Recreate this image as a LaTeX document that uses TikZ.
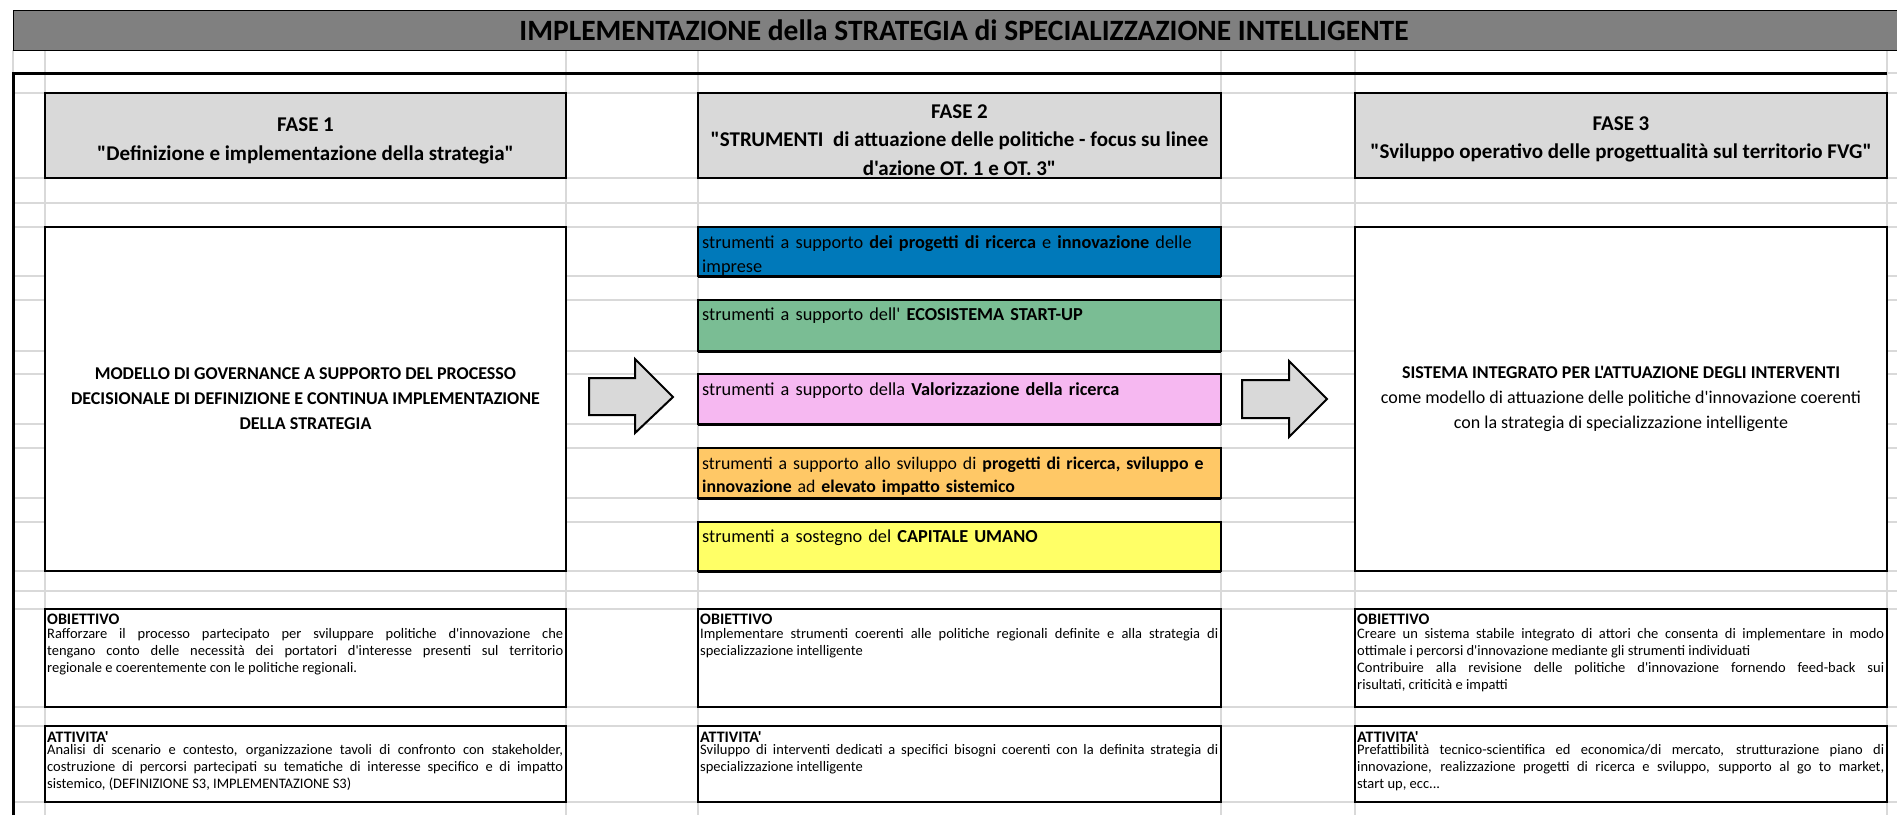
\documentclass[tikz,border=0pt]{standalone}
\usepackage{fontspec}
\setmainfont{Carlito}[Ligatures=TeXOff]
\usetikzlibrary{calc}
\definecolor{gridgray}{HTML}{D9D9D9}
\definecolor{headgray}{HTML}{D9D9D9}
\definecolor{titlegray}{HTML}{808080}
\definecolor{tblue}{HTML}{0079BA}
\definecolor{tgreen}{HTML}{7ABD94}
\definecolor{tpink}{HTML}{F6B8F1}
\definecolor{torange}{HTML}{FFC866}
\definecolor{tyellow}{HTML}{FFFF66}
\begin{document}
\begin{tikzpicture}[x=1pt,y=-1pt,
  gridline/.style={draw=gridgray,line width=1.4pt},
  cell/.style={rectangle,anchor=north west,inner sep=0pt,outer sep=0pt},
  fasebox/.style={cell,draw=black,line width=1.6pt,fill=headgray,minimum height=85pt},
  fasetext/.style={inner sep=0pt,align=center,font=\fontsize{21}{28.5}\selectfont\bfseries},
  bigbox/.style={cell,draw=black,line width=2.2pt,fill=white,align=center,
    font=\fontsize{18}{25}\selectfont},
  toolbox/.style={cell,draw=black,line width=1.7pt,minimum width=523pt},
  toolbase/.style={line width=3pt},
  tooltext/.style={anchor=north west,inner sep=0pt,text width=516pt,align=left,
    font=\fontsize{18.3}{24.5}\selectfont,
    execute at begin node={\hyphenpenalty=10000\exhyphenpenalty=10000\relax}},
  infobox/.style={cell,draw=black,line width=2pt,fill=white},
  infohead/.style={font=\fontsize{16}{17}\selectfont\bfseries},
  infotext/.style={anchor=north west,inner sep=0pt,align=justify,
    font=\fontsize{14.5}{17}\selectfont,
    execute at begin node={\tolerance=9999\hyphenpenalty=10000\exhyphenpenalty=10000\relax}},
  blockarrow/.style={draw=black,line width=2pt,fill=headgray,line join=miter}
]
\useasboundingbox (0,0) rectangle (1897,815);
\fill[white] (0,0) rectangle (1897,815);

% spreadsheet grid
\foreach \yy in {50,73,93,178,203,227,276,300,351,374,424,448,498,522,571,591,609,707,726,802}
  \draw[gridline] (13,\yy) -- (1897,\yy);
\foreach \xx in {13,45,566,698,1221,1355,1887}
  \draw[gridline] (\xx,50) -- (\xx,815);

% title
\node[cell,fill=titlegray,draw=black,line width=1pt,minimum width=1884pt,minimum height=40pt] (title) at (13,10) {};
\node[font=\fontsize{29.5}{34}\selectfont\bfseries,inner sep=0pt] (titletext) at (964,30.5)
  {IMPLEMENTAZIONE della STRATEGIA di SPECIALIZZAZIONE INTELLIGENTE};

% outer thick border
\draw[line width=3pt] (13,815) -- (13,73) -- (1887,73);

% phase headers
\node[fasebox,minimum width=521pt] (f1) at (45,93) {};
\node[fasebox,minimum width=523pt] (f2) at (698,93) {};
\node[fasebox,minimum width=532pt] (f3) at (1355,93) {};
\node[fasetext] (f1x) at ($(f1.center)+(0,5.5)$)
  {FASE 1\\"Definizione e implementazione della strategia"};
\node[fasetext] (f2x) at ($(f2.center)+(0,4.5)$)
  {FASE 2\\"STRUMENTI\ \ di attuazione delle politiche - focus su linee\\d'azione OT. 1 e OT. 3"};
\node[fasetext] (f3x) at ($(f3.center)+(0,4)$)
  {FASE 3\\"Sviluppo operativo delle progettualità sul territorio FVG"};

% big boxes
\node[bigbox,minimum width=521pt,minimum height=344pt,font=\fontsize{18}{25}\selectfont\bfseries] (gov) at (45,227)
  {MODELLO DI GOVERNANCE A SUPPORTO DEL PROCESSO\\DECISIONALE DI DEFINIZIONE E CONTINUA IMPLEMENTAZIONE\\DELLA STRATEGIA};
\node[bigbox,minimum width=532pt,minimum height=344pt] (sis) at (1355,227)
  {\textbf{SISTEMA INTEGRATO PER L'ATTUAZIONE DEGLI INTERVENTI}\\come modello di attuazione delle politiche d'innovazione coerenti\\con la strategia di specializzazione intelligente};

% tool boxes
\node[toolbox,fill=tblue,minimum height=49pt] (t1) at (698,227) {};
\node[toolbox,fill=tgreen,minimum height=51pt] (t2) at (698,300) {};
\node[toolbox,fill=tpink,minimum height=50pt] (t3) at (698,374) {};
\node[toolbox,fill=torange,minimum height=50pt] (t4) at (698,448) {};
\node[toolbox,fill=tyellow,minimum height=49pt] (t5) at (698,522) {};
\foreach \tb in {t1,t2,t3,t4,t5}
  \draw[toolbase] (\tb.south west) -- (\tb.south east);
\node[tooltext] (t1x) at ($(t1.north west)+(4,8)$) {strumenti a supporto \textbf{dei progetti di ricerca} e \textbf{innovazione} delle imprese};
\node[tooltext] (t2x) at ($(t2.north west)+(4,8)$) {strumenti a supporto dell' \textbf{ECOSISTEMA START-UP}};
\node[tooltext] (t3x) at ($(t3.north west)+(4,8)$) {strumenti a supporto della \textbf{Valorizzazione della ricerca}};
\node[tooltext,font=\fontsize{17.8}{23}\selectfont] (t4x) at ($(t4.north west)+(4,9)$) {strumenti a supporto allo sviluppo di \textbf{progetti di ricerca, sviluppo e innovazione} ad \textbf{elevato impatto sistemico}};
\node[tooltext] (t5x) at ($(t5.north west)+(4,8)$) {strumenti a sostegno del \textbf{CAPITALE UMANO}};

% block arrows
\draw[blockarrow] (589,378) -- (635,378) -- (635,359) -- (673,397) -- (635,433) -- (635,415) -- (589,415) -- cycle;
\draw[blockarrow] (1242,380) -- (1289,380) -- (1289,361) -- (1327,399) -- (1289,437) -- (1289,418) -- (1242,418) -- cycle;

% objective and activity boxes
\node[infobox,minimum width=521pt,minimum height=98pt] (o1) at (45,609) {};
\node[infobox,minimum width=523pt,minimum height=98pt] (o2) at (698,609) {};
\node[infobox,minimum width=532pt,minimum height=98pt] (o3) at (1355,609) {};
\node[infobox,minimum width=521pt,minimum height=76pt] (a1) at (45,726) {};
\node[infobox,minimum width=523pt,minimum height=76pt] (a2) at (698,726) {};
\node[infobox,minimum width=532pt,minimum height=76pt] (a3) at (1355,726) {};

\node[infotext,text width=516pt] (o1x) at ($(o1.north west)+(2,5)$)
  {{\fontsize{16}{17}\selectfont\bfseries OBIETTIVO\par}\vspace{-3pt}Rafforzare il processo partecipato per sviluppare politiche d'innovazione che\linebreak tengano conto delle necessità dei portatori d'interesse presenti sul territorio\linebreak regionale e coerentemente con le politiche regionali.};
\node[infotext,text width=518pt] (o2x) at ($(o2.north west)+(2,5)$)
  {{\fontsize{16}{17}\selectfont\bfseries OBIETTIVO\par}\vspace{-3pt}Implementare strumenti coerenti alle politiche regionali definite e alla strategia di\linebreak specializzazione intelligente};
\node[infotext,text width=527pt] (o3x) at ($(o3.north west)+(2,5)$)
  {{\fontsize{16}{17}\selectfont\bfseries OBIETTIVO\par}\vspace{-3pt}Creare un sistema stabile integrato di attori che consenta di implementare in modo\linebreak ottimale i percorsi d'innovazione mediante gli strumenti individuati\par Contribuire alla revisione delle politiche d'innovazione fornendo feed-back sui\linebreak risultati, criticità e impatti};
\node[infotext,text width=516pt] (a1x) at ($(a1.north west)+(2,5)$)
  {{\fontsize{16}{17}\selectfont\bfseries ATTIVITA'\par}\vspace{-5pt}Analisi di scenario e contesto, organizzazione tavoli di confronto con stakeholder,\linebreak costruzione di percorsi partecipati su tematiche di interesse specifico e di impatto\linebreak sistemico, (DEFINIZIONE S3, IMPLEMENTAZIONE S3)};
\node[infotext,text width=518pt] (a2x) at ($(a2.north west)+(2,5)$)
  {{\fontsize{16}{17}\selectfont\bfseries ATTIVITA'\par}\vspace{-5pt}Sviluppo di interventi dedicati a specifici bisogni coerenti con la definita strategia di\linebreak specializzazione intelligente};
\node[infotext,text width=527pt] (a3x) at ($(a3.north west)+(2,5)$)
  {{\fontsize{16}{17}\selectfont\bfseries ATTIVITA'\par}\vspace{-5pt}Prefattibilità tecnico-scientifica ed economica/di mercato, strutturazione piano di\linebreak innovazione, realizzazione progetti di ricerca e sviluppo, supporto al go to market,\linebreak start up, ecc...};
\end{tikzpicture}
\end{document}
